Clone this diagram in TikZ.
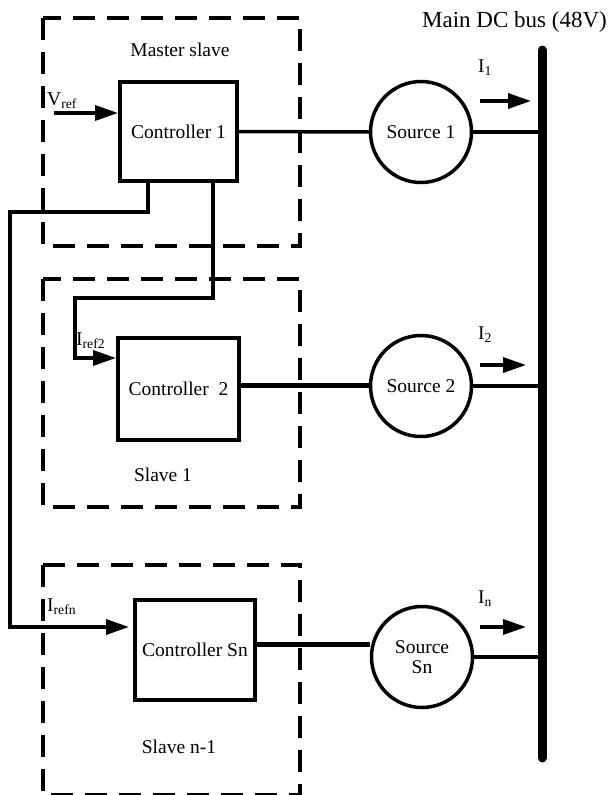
\documentclass[tikz,border=0pt]{standalone}
\usepackage{fontspec}
\setmainfont{Liberation Serif}
\usetikzlibrary{arrows.meta}
\begin{document}
\begin{tikzpicture}[x=1pt,y=-1pt,
  txt/.style={font=\fontsize{19.5}{22}\selectfont, inner sep=0pt},
  ctrlbox/.style={draw, line width=4pt, rectangle, txt, inner sep=0pt},
  srccirc/.style={draw, line width=3.5pt, circle, minimum size=101pt, txt, align=center},
  frame/.style={line width=3.6pt, dash pattern=on 22pt off 12pt},
  wire/.style={line width=3.5pt},
  thickwire/.style={line width=5pt},
  arr/.style={-{Triangle[length=23pt,width=15pt]}},
]
\useasboundingbox (0,0) rectangle (608,795);

% dashed frames
\draw[frame] (43,18) rectangle (300,246);
\draw[frame] (43,279) rectangle (300,507);
\draw[frame] (43,565) rectangle (300,795);

% controllers
\node[ctrlbox, minimum width=117pt, minimum height=99pt] (ctrl1) at (178.5,131.5) {Controller 1};
\node[ctrlbox, minimum width=121pt, minimum height=102pt] (ctrl2) at (178.5,389) {Controller\ \ 2};
\node[ctrlbox, minimum width=120pt, minimum height=100pt] (ctrln) at (195,650) {Controller Sn};

% sources
\node[srccirc] (src1) at (421,132) {Source 1};
\node[srccirc] (src2) at (421,386) {Source 2};
\node[srccirc] (srcn) at (422,657) {Source\\[-2pt]Sn};

% bus
\coordinate (bustop) at (542,50);
\coordinate (busbot) at (542,758);
\draw[line width=9pt, line cap=round] (bustop) -- (busbot);

% labels
\node[txt] (master) at (180,50) {Master slave};
\node[txt] (slave1) at (163,475) {Slave 1};
\node[txt] (slaven) at (179,747) {Slave n-1};
\node[font=\fontsize{23}{26}\selectfont, inner sep=0pt, anchor=east] (bus) at (607,22) {Main DC bus (48V)};
\node[txt, anchor=west] (vref) at (47,101) {V\textsubscript{ref}};
\node[txt, anchor=west] (iref2) at (76,341) {I\textsubscript{ref2}};
\node[txt, anchor=west] (irefn) at (47,607) {I\textsubscript{refn}};
\node[txt, anchor=west] (i1) at (478,68) {I\textsubscript{1}};
\node[txt, anchor=west] (i2) at (478,335) {I\textsubscript{2}};
\node[txt, anchor=west] (in) at (478,599) {I\textsubscript{n}};

% current arrows
\coordinate (a1s) at (480,101);
\coordinate (a1e) at (531,101);
\coordinate (a2s) at (480,365);
\coordinate (a2e) at (526,365);
\coordinate (ans) at (480,627);
\coordinate (ane) at (526,627);
\draw[wire, arr] (a1s) -- (a1e);
\draw[wire, arr] (a2s) -- (a2e);
\draw[wire, arr] (ans) -- (ane);

% power connections
\draw[wire] (ctrl1.east) -- (src1.west);
\draw[wire] (src1.east) -- (src1.east -| bustop);
\draw[thickwire] ([yshift=4pt]ctrl2.east) -- ([yshift=4pt]ctrl2.east -| src2.west);
\draw[wire] (src2.east) -- (src2.east -| bustop);
\draw[thickwire] ([yshift=6pt]ctrln.east) -- ([yshift=6pt]ctrln.east -| srcn.west);
\draw[wire] (srcn.east) -- (srcn.east -| bustop);

% reference signals
\coordinate (vstart) at (54,113);
\draw[wire, arr] (vstart) -- (ctrl1.west |- vstart);

\draw[wire, arr, line join=miter] ([xshift=34.5pt]ctrl1.south) -- ++(0,115) -| (75,358) -- (ctrl2.west |- 0,358);
\draw[wire, arr, line join=miter, shorten >=4pt] ([xshift=-30.5pt]ctrl1.south) -- ++(0,29) -| (10,627) -- (ctrln.west |- 0,627);
\end{tikzpicture}
\end{document}
